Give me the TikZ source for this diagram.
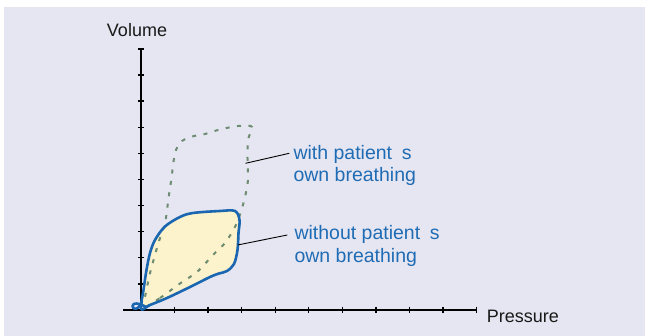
\documentclass[tikz,border=0pt]{standalone}
\usepackage{fontspec}
\setmainfont{Liberation Sans}
\definecolor{bgc}{HTML}{E6E6F2}
\definecolor{loopblue}{HTML}{1A66B0}
\definecolor{loopfill}{HTML}{FCF2CB}
\definecolor{dashc}{HTML}{6E8C72}
\definecolor{txtblue}{HTML}{1F6CB4}
\tikzset{
  axisline/.style={line width=2pt,black},
  tickmark/.style={line width=1.4pt,black},
  axislabel/.style={inner sep=0pt,font=\fontsize{18}{21}\selectfont,text=black!90},
  bluelabel/.style={inner sep=0pt,align=left,font=\fontsize{19.5}{22.5}\selectfont,text=txtblue},
  leader/.style={line width=0.9pt,black},
  mainloop/.style={line width=2.6pt,loopblue,line join=round},
  dashloop/.style={line width=2pt,dashc,dash pattern=on 4pt off 7.5pt}
}
\begin{document}
\begin{tikzpicture}[x=1pt,y=-1pt]
\useasboundingbox (0,0) rectangle (645,336);
\fill[white] (0,0) rectangle (645,336);
\fill[bgc] (4,7) rectangle (645,336);

% yellow fill of the loop without own breathing
\fill[loopfill] plot[smooth cycle,tension=0.55] coordinates{
 (141,309) (150,305) (167,298) (190,287) (210,277) (219,273.5) (227,271) (234,264)
 (237.5,250) (238.5,233) (239.5,220) (235,211) (220,211) (193,213) (180,217)
 (165,226.5) (155,240) (150,253) (146.5,270) (143.5,290)};

% dashed loop with own breathing
\draw[dashloop] plot[smooth cycle,tension=0.5] coordinates{
 (141,309) (160,298) (180,283.5) (197,272) (213,255) (225,243) (235,227) (240.5,213)
 (245,197) (248,180) (247.5,160) (248,140) (252,127) (242,125.7) (230,127.3) (218,130)
 (205,134) (193,136.3) (182,141) (176,150) (173.3,163) (171.7,177) (170,188) (168.3,200)
 (165,223) (158.3,243.3) (150,273.3) (145,296.7)};

% axes
\draw[axisline] (123,310) -- (476.5,310);
\draw[axisline] (141,310) -- (141,49);
\foreach \k in {1,...,10} {
  \draw[tickmark] (141-3.2,310-26.1*\k) -- (141+3.2,310-26.1*\k);
  \draw[tickmark] (141+33.55*\k,310-3.2) -- (141+33.55*\k,310+3.2);
}

% solid blue loop
\draw[mainloop] plot[smooth cycle,tension=0.55] coordinates{
 (141,309) (150,305) (167,298) (190,287) (210,277) (219,273.5) (227,271) (234,264)
 (237.5,250) (238.5,233) (239.5,220) (235,211) (220,211) (193,213) (180,217)
 (165,226.5) (155,240) (150,253) (146.5,270) (143.5,290)};
\draw[mainloop] (142,301) .. controls (139,311) and (132,310) .. (132.5,306)
  .. controls (133,302) and (139,303) .. (146,307);

% labels
\node[axislabel,anchor=base] (vol) at (137,36.7) {Volume};
\node[axislabel,anchor=base west] (pres) at (486.7,322.3) {Pressure};
\node[bluelabel,anchor=base west] (withl) at (293.3,181.8) {with patient\hspace{0.5em}s\\own breathing};
\node[bluelabel,anchor=base west] (woutl) at (294.3,262.5) {without patient\hspace{0.5em}s\\own breathing};

% leader lines
\coordinate (wa) at (245.5,163.3);
\coordinate (wb) at (289.3,153.3);
\coordinate (oa) at (237.7,245);
\coordinate (ob) at (287.3,235);
\draw[leader] (wa) -- (wb);
\draw[leader] (oa) -- (ob);
\end{tikzpicture}
\end{document}
